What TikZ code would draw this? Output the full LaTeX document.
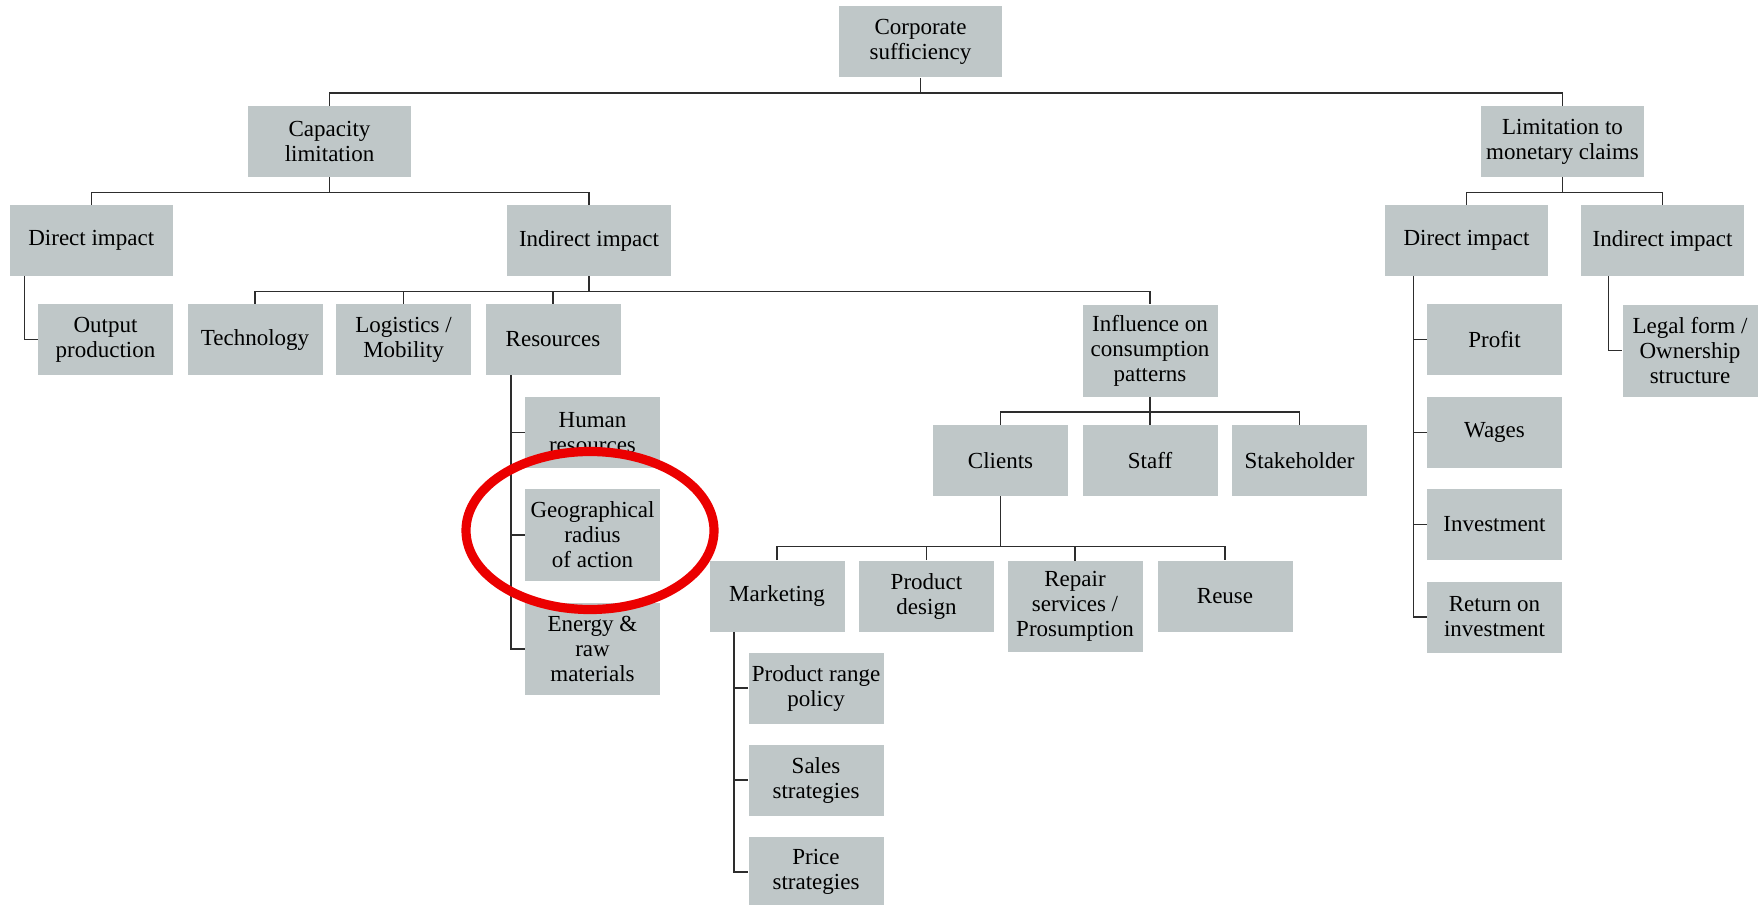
\documentclass[tikz,border=0pt]{standalone}
\usepackage{fontspec}
\setmainfont{Liberation Serif}
\definecolor{boxgray}{RGB}{191,199,200}
\definecolor{linegray}{RGB}{45,45,45}
\definecolor{ringred}{RGB}{235,0,0}
\begin{document}
\begin{tikzpicture}[x=0.5pt,y=-0.5pt,
  box/.style={fill=boxgray, align=center, inner sep=0pt,
    font=\fontsize{11.5pt}{12.5pt}\selectfont},
  wide/.style={box, minimum width=81.75pt},
  narrow/.style={box, minimum width=67.5pt},
  hone/.style={minimum height=35.5pt},
  hthree/.style={minimum height=46pt},
  conn/.style={draw=linegray, line width=0.75pt},
  ring/.style={draw=ringred, line width=4.6pt}]
\useasboundingbox (0,0) rectangle (1759,904);

% level 0-1
\node[wide,hone] (corp) at (920.5,42) {Corporate\\sufficiency};
\node[wide,hone] (cap) at (329.5,141.5) {Capacity\\limitation};
\node[wide,hone] (lim) at (1562.5,141.5) {Limitation to\\monetary claims};
% level 2
\node[wide,hone] (dir1) at (91.25,240.5) {Direct impact};
\node[wide,hone] (ind1) at (589,240.5) {Indirect impact};
\node[wide,hone] (dir2) at (1466.5,240.5) {Direct impact};
\node[wide,hone] (ind2) at (1662.5,240.5) {Indirect impact};
% level 3
\node[narrow,hone] (out) at (105.5,339.5) {Output\\production};
\node[narrow,hone] (tech) at (255,339.5) {Technology};
\node[narrow,hone] (logi) at (403.5,339.5) {Logistics /\\Mobility};
\node[narrow,hone] (res) at (553,339.5) {Resources};
\node[narrow,hthree] (infl) at (1150,350.5) {Influence on\\consumption\\patterns};
\node[narrow,hone] (profit) at (1494.5,339.5) {Profit};
\node[narrow,hthree] (legal) at (1690,350.5) {Legal form /\\Ownership\\structure};
% resources children
\node[narrow,hone] (human) at (592.5,432.5) {Human\\resources};
\node[narrow,hthree] (geo) at (592.5,535) {Geographical\\radius\\of action};
\node[narrow,hthree] (energy) at (592.5,649) {Energy \&\\raw\\materials};
% monetary direct children
\node[narrow,hone] (wages) at (1494.5,432.5) {Wages};
\node[narrow,hone] (invest) at (1494.5,524.5) {Investment};
\node[narrow,hone] (ret) at (1494.5,617) {Return on\\investment};
% influence children
\node[narrow,hone] (clients) at (1000.5,460.5) {Clients};
\node[narrow,hone] (staff) at (1150,460.5) {Staff};
\node[narrow,hone] (stake) at (1299.5,460.5) {Stakeholder};
% clients children
\node[narrow,hone] (mkt) at (777,596) {Marketing};
\node[narrow,hone] (pdes) at (926.5,596) {Product\\design};
\node[narrow,minimum height=45.5pt] (repair) at (1075,606.5) {Repair\\services /\\Prosumption};
\node[narrow,hone] (reuse) at (1225,596) {Reuse};
% marketing children
\node[narrow,hone] (prange) at (816,688) {Product range\\policy};
\node[narrow,hone] (sales) at (816,780) {Sales\\strategies};
\node[narrow,hone] (price) at (816,872) {Price\\strategies};

% connectors: tree bars
\draw[conn] (corp.south) -- ++(0,15) coordinate (b0);
\draw[conn] (cap.north) |- (b0) -| (lim.north);

\draw[conn] (cap.south) -- ++(0,15) coordinate (b1);
\draw[conn] (dir1.north) |- (b1) -| (ind1.north);

\draw[conn] (lim.south) -- ++(0,15) coordinate (b2);
\draw[conn] (dir2.north) |- (b2) -| (ind2.north);

\draw[conn] (ind1.south) -- ++(0,15) coordinate (b3);
\draw[conn] (tech.north) |- (b3) -| (infl.north);
\draw[conn] (logi.north) -- (logi.north |- b3);
\draw[conn] (res.north) -- (res.north |- b3);

\draw[conn] (infl.south) -- ++(0,15) coordinate (b4);
\draw[conn] (clients.north) |- (b4) -| (stake.north);
\draw[conn] (staff.north) -- (staff.north |- b4);

\draw[conn] (clients.south) -- ++(0,50) coordinate (b5);
\draw[conn] (mkt.north) |- (b5) -| (reuse.north);
\draw[conn] (pdes.north) -- (pdes.north |- b5);
\draw[conn] (repair.north) -- (repair.north |- b5);

% connectors: side rails
\draw[conn] (dir1.south west) ++(15.5,0) coordinate (r1) |- (out.west);

\draw[conn] (res.south west) ++(26,0) coordinate (r2) |- (energy.west);
\draw[conn] (r2 |- human.west) -- (human.west);
\draw[conn] (r2 |- geo.west) -- (geo.west);

\draw[conn] (mkt.south west) ++(25,0) coordinate (r3) |- (price.west);
\draw[conn] (r3 |- prange.west) -- (prange.west);
\draw[conn] (r3 |- sales.west) -- (sales.west);

\draw[conn] (dir2.south west) ++(29,0) coordinate (r4) |- (ret.west);
\draw[conn] (r4 |- profit.west) -- (profit.west);
\draw[conn] (r4 |- wages.west) -- (wages.west);
\draw[conn] (r4 |- invest.west) -- (invest.west);

\draw[conn] (ind2.south west) ++(28,0) coordinate (r5) |- (legal.west);

% red highlight ring
\draw[ring] (geo.center) ++(-2.5,-4.5) ellipse [x radius=62pt, y radius=39.5pt];
\end{tikzpicture}
\end{document}
